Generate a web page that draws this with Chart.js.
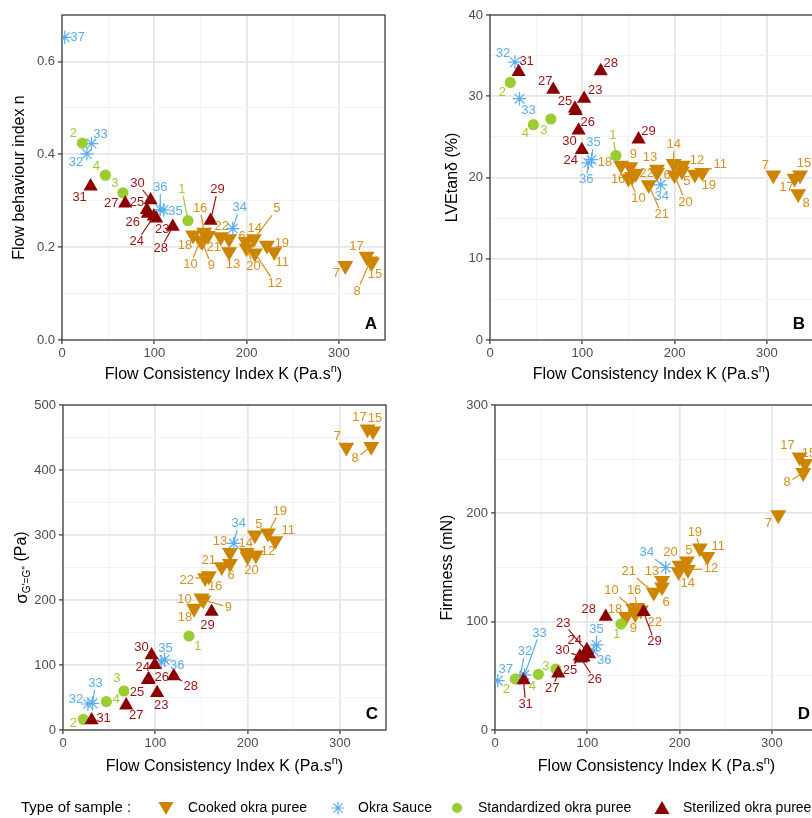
<!DOCTYPE html>
<html>
<head>
<meta charset="utf-8">
<script src="https://cdn.jsdelivr.net/npm/chart.js@4.4.0/dist/chart.umd.min.js"></script>
<style>
  html, body { margin: 0; padding: 0; background: #fff; }
  body { width: 812px; height: 818px; overflow: hidden; position: relative; font-family: 'Liberation Sans', Arial, sans-serif; }
  .panel { position: absolute; }
</style>
</head>
<body>
<canvas id="cA" class="panel" width="400" height="390" style="left:0;top:0"></canvas>
<canvas id="cB" class="panel" width="430" height="390" style="left:400px;top:0"></canvas>
<canvas id="cC" class="panel" width="400" height="390" style="left:0;top:390px"></canvas>
<canvas id="cD" class="panel" width="430" height="390" style="left:400px;top:390px"></canvas>
<canvas id="legend" class="panel" width="812" height="40" style="left:0;top:788px"></canvas>
<script>
/* ── Data ─────────────────────────────────────────────────────────────── */
const categories = ['Cooked okra puree', 'Okra Sauce', 'Standardized okra puree', 'Sterilized okra puree'];
const sampleIds  = [1,2,3,4,5,6,7,8,9,10,11,12,13,14,15,16,17,18,19,20,21,22,23,24,25,26,27,28,29,30,31,32,33,34,35,36,37];
// index into categories for every sample
const sampleCat  = [2,2,2,2, 0,0,0,0,0,0,0,0,0,0,0,0,0,0,0,0,0,0, 3,3,3,3,3,3,3,3,3, 1,1,1,1,1,1];

// Flow consistency index K (Pa.s^n)
const flowK = [136.5,22,66,47,208,181,307,334,152,150,230,209,181,199,336,154,330,142,222,200,172,158,102,99.5,92,93,68.5,120,161,96,31,27,32,185,110,106.5,3];
// A: flow behaviour index n
const flowN = [0.257,0.424,0.317,0.355,0.218,0.218,0.160,0.170,0.212,0.215,0.190,0.187,0.190,0.212,0.168,0.232,0.180,0.226,0.204,0.198,0.222,0.225,0.262,0.266,0.280,0.272,0.294,0.244,0.257,0.301,0.331,0.401,0.423,0.240,0.280,0.281,0.652];
// B: LVE tan delta (%)
const lveTan = [22.7,31.7,27.2,26.5,20.8,20.6,20.3,18.0,21.3,19.9,20.6,21.5,21.0,21.7,20.3,20.1,19.9,21.5,20.4,20.3,19.1,20.5,29.7,23.4,28.5,28.2,30.8,33.1,24.7,25.8,33.0,34.2,29.7,19.1,22.2,21.8,null];
// C: sigma G'=G'' (Pa)
const sigmaCross = [144.6,16.4,60,43.6,300,256,435,436,200,203,291,269,273,273,460,234,463,187,303,267,251,237,57,100,77,78,38,83,182,115,15,40,41,287,108,105,null];
// D: firmness (mN)
const firmness = [97.8,47,56.3,51.4,156,132,198.5,237.5,107,112,160,148,138,146,246,113,252,104.6,168,152,127,110.7,70,74,68,66,52.3,104.6,109,67,46,47.7,50.8,150,78.5,73,45.5];

// tick values
const xMajor = [0,100,200,300];
const xMinor = [50,150,250,350];
const yMajorA = [0,0.2,0.4,0.6], yMinorA = [0.1,0.3,0.5,0.7];
const yMajorB = [0,10,20,30,40], yMinorB = [5,15,25,35];
const yMajorC = [0,100,200,300,400,500], yMinorC = [50,150,250,350,450];
const yMajorD = [0,100,200,300], yMinorD = [50,150,250];

/* ── Label offsets (px, label centre relative to point) ───────────────── */
const offA = [[-6,-31],[-9,-10],[-8,-9],[-9,-9],[23,-30],[13,-2],[-9,8],[-13,30],[9,24],[-10,24],[8,11],[20,30],[4,13],[9,-13],[3,12],[-4,-24],[-10,-10],[-8,10],[15,-2],[7,18],[-7,10],[14,-9],[6,11],[-17,25],[-10,-8],[-15,9],[-14,0],[-12,22],[7,-31],[-13,-17],[-11,11],[-11,9],[9,-9],[7,-21],[12,1],[0,-22],[13,0]];
const offB = [[-3,-20],[-8,10],[-7,11],[-8,9],[5,10],[10,3],[-8,-10],[8,10],[3,-13],[10,20],[18,-8],[14,-5],[-7,-12],[0,-19],[4,-12],[-14,3],[-8,9],[-16,-3],[14,11],[11,27],[13,30],[11,0],[11,-8],[-11,11],[-10,-7],[12,12],[-8,-8],[10,-8],[10,-8],[-9,11],[8,-10],[-12,-9],[9,12],[1,12],[2,-17],[-2,17],[0,0]];
const offC = [[9,10],[-10,4],[-7,-13],[10,-2],[4,-11],[1,12],[-9,-11],[-16,12],[25,7],[-17,1],[13,-10],[12,-4],[-10,-11],[-1,-9],[2,-13],[10,9],[-8,-12],[-9,9],[12,-22],[4,14],[-13,-6],[-22,4],[4,12],[-12,2],[-11,12],[13,-2],[10,10],[17,10],[-4,14],[-10,-8],[12,-2],[-12,-5],[3,-20],[5,-20],[1,-11],[16,4],[0,0]];
const offD = [[-4,10],[-9,10],[-10,-3],[-6,12],[2,-11],[4,15],[-10,8],[-16,10],[-2,14],[-22,-18],[11,-10],[23,-1],[-10,-9],[9,12],[4,-10],[-3,-17],[-12,-12],[-11,-7],[-5,-16],[-9,-13],[-25,-21],[14,12],[-26,-31],[-12,-9],[-10,14],[14,21],[-6,15],[-17,-7],[11,30],[-21,-7],[2,24],[5,-27],[15,-42],[-19,-15],[0,-16],[11,10],[8,-11]];

/* ── Styles ───────────────────────────────────────────────────────────── */
const FONT = "'Liberation Sans', Arial, sans-serif";
const catColor   = ['#CD8500', '#5CACEE', '#9ACD32', '#8B0000'];
const labelColor = ['#D8901C', '#5CACEE', '#9ACD32', '#9E1010'];
const markerStyle = [
  { pointStyle: 'triangle', rotation: 180, pointRadius: 9.2, borderWidth: 0, order: 4 },
  { pointStyle: 'star', pointRadius: 6.8, borderWidth: 1.2, order: 3 },
  { pointStyle: 'circle', pointRadius: 5.6, borderWidth: 0, order: 2 },
  { pointStyle: 'triangle', pointRadius: 8.2, borderWidth: 0, order: 1 }
];

/* ── Plugin: border, repel labels, titles, panel letter ──────────────── */
const panelDecor = {
  id: 'panelDecor',
  beforeDatasetsDraw(chart, args, o) {
    const { ctx, chartArea: a } = chart;
    ctx.save();
    ctx.strokeStyle = '#333'; ctx.lineWidth = 1.2;
    ctx.strokeRect(a.left, a.top, a.right - a.left, a.bottom - a.top);
    ctx.restore();
  },
  afterDatasetsDraw(chart, args, o) {
    const { ctx, chartArea: a } = chart;
    const xs = chart.scales.x, ys = chart.scales.y;
    ctx.save();
    ctx.beginPath(); ctx.rect(a.left, a.top, a.right - a.left, a.bottom - a.top); ctx.clip();
    ctx.font = '13px ' + FONT;
    ctx.textAlign = 'center'; ctx.textBaseline = 'middle';
    o.vals.forEach((v, i) => {
      if (v == null) return;
      const px = xs.getPixelForValue(flowK[i]), py = ys.getPixelForValue(v);
      const [dx, dy] = o.offs[i];
      const lx = px + dx, ly = py + dy;
      const txt = String(sampleIds[i]);
      const col = labelColor[sampleCat[i]];
      const hw = ctx.measureText(txt).width / 2 + 1.5, hh = 6.5;
      const len = Math.hypot(dx, dy);
      const t = Math.min(dx ? hw / Math.abs(dx) : Infinity, dy ? hh / Math.abs(dy) : Infinity);
      if (t < 1 && len * (1 - t) > 9) {
        ctx.strokeStyle = col; ctx.lineWidth = 1.2;
        ctx.beginPath(); ctx.moveTo(px, py); ctx.lineTo(lx - dx * t, ly - dy * t); ctx.stroke();
      }
      ctx.fillStyle = col;
      ctx.fillText(txt, lx, ly);
    });
    // panel letter
    ctx.font = 'bold 17px ' + FONT;
    ctx.fillStyle = '#000'; ctx.textAlign = 'right'; ctx.textBaseline = 'alphabetic';
    ctx.fillText(o.letter, a.right - 8, a.bottom - 11);
    ctx.restore();
  },
  afterDraw(chart, args, o) {
    const { ctx, chartArea: a } = chart;
    ctx.save();
    ctx.fillStyle = '#000'; ctx.textBaseline = 'middle';
    // x title with superscript n
    const main = 'Flow Consistency Index K (Pa.s';
    ctx.font = '16px ' + FONT;
    const w1 = ctx.measureText(main).width, w3 = ctx.measureText(')').width;
    ctx.font = '11px ' + FONT;
    const w2 = ctx.measureText('n').width;
    let x = (a.left + a.right) / 2 - (w1 + w2 + w3) / 2;
    ctx.textAlign = 'left';
    ctx.font = '16px ' + FONT; ctx.fillText(main, x, o.xTitleY);
    ctx.font = '11px ' + FONT; ctx.fillText('n', x + w1, o.xTitleY - 6);
    ctx.font = '16px ' + FONT; ctx.fillText(')', x + w1 + w2, o.xTitleY);
    // y title (rotated), parts: [text, size, shift]
    ctx.translate(o.yTitleX, (a.top + a.bottom) / 2);
    ctx.rotate(-Math.PI / 2);
    let tot = 0;
    o.yTitle.forEach(p => { ctx.font = p[1] + 'px ' + FONT; tot += ctx.measureText(p[0]).width; });
    let u = -tot / 2;
    o.yTitle.forEach(p => {
      ctx.font = p[1] + 'px ' + FONT;
      ctx.fillText(p[0], u, p[2]);
      u += ctx.measureText(p[0]).width;
    });
    ctx.restore();
  }
};

/* ── Panel builder ────────────────────────────────────────────────────── */
function makePanel(id, vals, offs, p) {
  const datasets = categories.map((cat, c) => ({
    label: cat,
    data: sampleIds.map((sid, i) => (sampleCat[i] === c && vals[i] != null) ? { x: flowK[i], y: vals[i] } : null).filter(Boolean),
    backgroundColor: catColor[c],
    borderColor: catColor[c],
    ...markerStyle[c]
  }));
  const isMajor = (list) => (ctx) => list.some(m => Math.abs(m - ctx.tick.value) < 1e-9);
  const gridOpts = (major) => ({
    color: (ctx) => isMajor(major)(ctx) ? '#e6e6e6' : '#f0f0f0',
    lineWidth: (ctx) => isMajor(major)(ctx) ? 1.8 : 0.9,
    tickColor: (ctx) => isMajor(major)(ctx) ? '#333' : 'rgba(0,0,0,0)',
    tickWidth: 1.2,
    tickLength: 4
  });
  return new Chart(document.getElementById(id), {
    type: 'scatter',
    data: { datasets },
    plugins: [panelDecor],
    options: {
      responsive: false,
      animation: false,
      events: [],
      layout: { padding: { top: 15, right: p.padRight, left: 0, bottom: 0 } },
      plugins: {
        legend: { display: false },
        tooltip: { enabled: false },
        panelDecor: { vals, offs, letter: p.letter, yTitle: p.yTitle, yTitleX: p.yTitleX, xTitleY: p.xTitleY }
      },
      scales: {
        x: {
          type: 'linear', min: 0, max: 350,
          afterBuildTicks: s => { s.ticks = xMajor.concat(xMinor).sort((m, n) => m - n).map(v => ({ value: v })); },
          afterFit: s => { s.height = 50; },
          ticks: {
            autoSkip: false, maxRotation: 0, padding: 2, color: '#4d4d4d', font: { size: 13, family: FONT },
            callback: v => xMajor.includes(v) ? String(v) : ''
          },
          grid: gridOpts(xMajor),
          border: { display: false }
        },
        y: {
          type: 'linear', min: 0, max: p.yMax,
          afterBuildTicks: s => { s.ticks = p.yMajor.concat(p.yMinor).sort((m, n) => m - n).map(v => ({ value: v })); },
          afterFit: s => { s.width = p.yAxisWidth; },
          ticks: {
            autoSkip: false, padding: 3, color: '#4d4d4d', font: { size: 13, family: FONT },
            callback: v => p.yMajor.some(m => Math.abs(m - v) < 1e-9) ? v.toFixed(p.dec) : ''
          },
          grid: gridOpts(p.yMajor),
          border: { display: false }
        }
      }
    }
  });
}

/* ── Panels ───────────────────────────────────────────────────────────── */
makePanel('cA', flowN, offA, { letter: 'A', yMax: 0.7, yMajor: yMajorA, yMinor: yMinorA, dec: 1, yAxisWidth: 62, padRight: 15,
  yTitleX: 20, xTitleY: 375, yTitle: [['Flow behaviour index n', 16, 0]] });
makePanel('cB', lveTan, offB, { letter: 'B', yMax: 40, yMajor: yMajorB, yMinor: yMinorB, dec: 0, yAxisWidth: 90, padRight: 17,
  yTitleX: 53, xTitleY: 375, yTitle: [['LVEtanδ (%)', 16, 0]] });
makePanel('cC', sigmaCross, offC, { letter: 'C', yMax: 500, yMajor: yMajorC, yMinor: yMinorC, dec: 0, yAxisWidth: 63, padRight: 14,
  yTitleX: 22, xTitleY: 377, yTitle: [['σ', 17, 0], ["G'=G''", 10, 5], [' (Pa)', 16, 0]] });
makePanel('cD', firmness, offD, { letter: 'D', yMax: 300, yMajor: yMajorD, yMinor: yMinorD, dec: 0, yAxisWidth: 95, padRight: 12,
  yTitleX: 48, xTitleY: 377, yTitle: [['Firmness (mN)', 16, 0]] });

/* ── Legend ───────────────────────────────────────────────────────────── */
(function drawLegend() {
  const ctx = document.getElementById('legend').getContext('2d');
  const cy = 20;
  ctx.textBaseline = 'middle';
  ctx.fillStyle = '#000';
  ctx.font = '15px ' + FONT;
  ctx.fillText('Type of sample :', 21, cy);
  const keyX = [166, 338, 457, 662];
  const textX = [188, 358, 478, 683];
  ctx.font = '14px ' + FONT;
  categories.forEach((cat, c) => {
    const x = keyX[c];
    ctx.fillStyle = catColor[c]; ctx.strokeStyle = catColor[c];
    ctx.beginPath();
    if (c === 0) { ctx.moveTo(x - 7.5, cy - 6); ctx.lineTo(x + 7.5, cy - 6); ctx.lineTo(x, cy + 7); ctx.fill(); }
    else if (c === 3) { ctx.moveTo(x - 7.5, cy + 6); ctx.lineTo(x + 7.5, cy + 6); ctx.lineTo(x, cy - 7); ctx.fill(); }
    else if (c === 2) { ctx.arc(x, cy, 5, 0, Math.PI * 2); ctx.fill(); }
    else {
      ctx.lineWidth = 1.2;
      for (let k = 0; k < 4; k++) {
        const ang = k * Math.PI / 4;
        ctx.moveTo(x - 6.5 * Math.cos(ang), cy - 6.5 * Math.sin(ang));
        ctx.lineTo(x + 6.5 * Math.cos(ang), cy + 6.5 * Math.sin(ang));
      }
      ctx.stroke();
    }
    ctx.fillStyle = '#000';
    ctx.fillText(cat, textX[c], cy);
  });
})();
</script>
</body>
</html>
